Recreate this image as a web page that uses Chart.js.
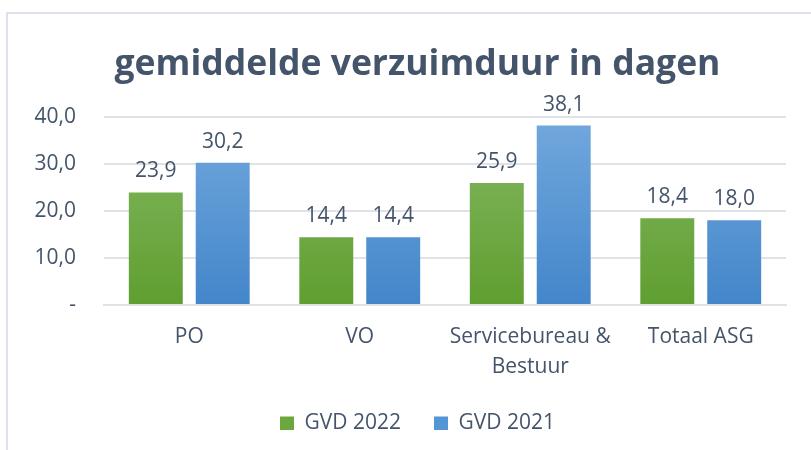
<!DOCTYPE html>
<html>
<head>
<meta charset="utf-8">
<script src="https://cdn.jsdelivr.net/npm/chart.js@4"></script>
<style>
    html, body { margin: 0; padding: 0; background: #fff; overflow: hidden; }
    #frame {
        position: absolute; left: 6px; top: 12px;
        width: 840px; height: 438px;
        border-left: 2px solid #dde2ea; border-top: 2px solid #dde2ea;
    }
</style>
</head>
<body>
<div id="frame"><canvas id="chart"></canvas></div>
<script>
// Data
const categories = ['PO', 'VO', ['Servicebureau &', 'Bestuur'], 'Totaal ASG'];
const gvd2022 = [23.9, 14.4, 25.9, 18.4];
const gvd2021 = [30.2, 14.4, 38.1, 18.0];
const seriesLabels = ['GVD 2022', 'GVD 2021'];
const yTicks = [0, 10, 20, 30, 40];

const textColor = '#44546a';
const gridColor = '#dfe3e8';
const fontFamily = "'Open Sans', sans-serif";

// verticale kleurverloop zoals in Excel
function gradient(top, bottom) {
    return function(context) {
        const area = context.chart.chartArea;
        if (!area) return bottom;
        const g = context.chart.ctx.createLinearGradient(0, area.top, 0, area.bottom);
        g.addColorStop(0, top);
        g.addColorStop(1, bottom);
        return g;
    };
}

function nlFormat(v) {
    if (v === 0) return '-';
    return v.toFixed(1).replace('.', ',');
}

// Waarden boven de staven
const valueLabels = {
    id: 'valueLabels',
    afterDatasetsDraw(chart) {
        const ctx = chart.ctx;
        ctx.save();
        ctx.fillStyle = textColor;
        ctx.font = "21px " + fontFamily;
        ctx.textAlign = 'center';
        ctx.textBaseline = 'alphabetic';
        chart.data.datasets.forEach((ds, i) => {
            chart.getDatasetMeta(i).data.forEach((bar, j) => {
                ctx.fillText(nlFormat(ds.data[j]), bar.x, bar.y - 15);
            });
        });
        ctx.restore();
    }
};

new Chart(document.getElementById('chart'), {
    type: 'bar',
    data: {
        labels: categories,
        datasets: [{
            label: seriesLabels[0],
            data: gvd2022,
            backgroundColor: gradient('#86b963', '#5f9e30')
        }, {
            label: seriesLabels[1],
            data: gvd2021,
            backgroundColor: gradient('#72a8dd', '#4386ca')
        }]
    },
    options: {
        responsive: true,
        maintainAspectRatio: false,
        animation: false,
        categoryPercentage: 0.785,
        barPercentage: 0.806,
        layout: { padding: { left: 9, right: 30, top: 30, bottom: 22 } },
        plugins: {
            title: {
                display: true,
                text: 'gemiddelde verzuimduur in dagen',
                color: textColor,
                font: { family: fontFamily, size: 35.5, weight: 'bold' },
                padding: { top: 0, bottom: 30 }
            },
            legend: {
                position: 'bottom',
                maxHeight: 50,
                labels: {
                    color: textColor,
                    font: { family: fontFamily, size: 21 },
                    boxWidth: 14,
                    boxHeight: 14,
                    padding: 33,
                    generateLabels(chart) {
                        return seriesLabels.map((t, i) => ({
                            text: t,
                            fillStyle: i === 0 ? '#6aa83e' : '#5495d5',
                            strokeStyle: 'transparent',
                            lineWidth: 0,
                            fontColor: textColor,
                            datasetIndex: i
                        }));
                    }
                }
            },
            tooltip: { enabled: false }
        },
        scales: {
            y: {
                min: 0,
                max: 40,
                afterBuildTicks(scale) {
                    scale.ticks = yTicks.map(v => ({ value: v }));
                },
                afterFit(scale) { scale.width = 87; },
                grid: { color: gridColor, lineWidth: 2, drawTicks: false },
                border: { display: false },
                ticks: {
                    color: textColor,
                    padding: 28,
                    font: { family: fontFamily, size: 21 },
                    callback: v => nlFormat(v)
                }
            },
            // lege ruimte rechts, zodat titel en legenda net als in Excel iets naar rechts staan
            spacer: {
                position: 'right',
                afterFit(scale) { scale.width = 32; },
                grid: { display: false },
                border: { display: false },
                ticks: { display: false }
            },
            x: {
                grid: { display: false },
                border: { color: gridColor, width: 2 },
                afterFit(scale) { scale.height = 75; },
                ticks: {
                    color: textColor,
                    padding: 9,
                    maxRotation: 0,
                    font: { family: fontFamily, size: 21, lineHeight: 1.43 }
                }
            }
        }
    },
    plugins: [valueLabels]
});
</script>
</body>
</html>
